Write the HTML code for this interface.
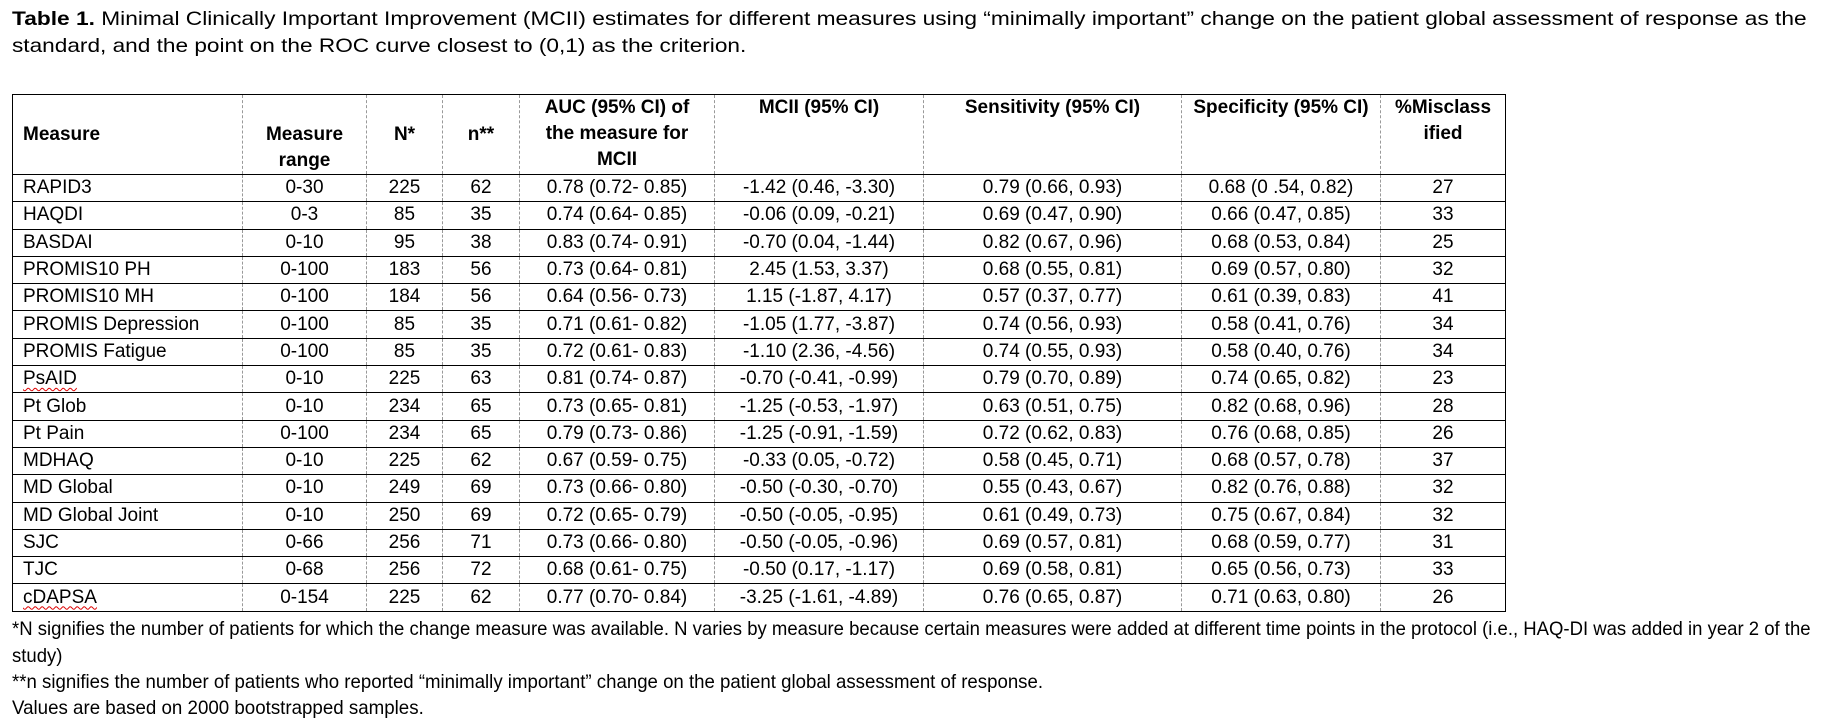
<!DOCTYPE html>
<html><head><meta charset="utf-8">
<style>
html,body{margin:0;padding:0;background:#fff;}
body{width:1842px;height:726px;position:relative;overflow:hidden;font-family:"Liberation Sans Narrow","Liberation Sans",sans-serif;color:#000;}
.t{position:absolute;left:12px;font-size:19.5px;white-space:nowrap;line-height:27px;transform-origin:0 50%;}
table{position:absolute;left:12px;top:94px;border-collapse:collapse;table-layout:fixed;font-size:19px;}
td,th{padding:0;height:26.3px;line-height:26px;text-align:center;border-left:1px dashed #999;border-right:1px dashed #999;border-top:1.5px solid #000;border-bottom:1.5px solid #000;white-space:nowrap;}
th{font-weight:bold;height:79px;vertical-align:top;line-height:26px;}
td:first-child,th:first-child{text-align:left;padding-left:10px;border-left:1.5px solid #000;}
td:last-child,th:last-child{border-right:1.5px solid #000;}
.sq{text-decoration:underline wavy #d00;text-decoration-thickness:1px;text-underline-offset:3px;}
</style></head><body>
<div class="t" style="top:6px;transform:scaleX(1.165)"><b>Table 1.</b> Minimal Clinically Important Improvement (MCII) estimates for different measures using “minimally important” change on the patient global assessment of response as the</div>
<div class="t" style="top:33px;transform:scaleX(1.16)">standard, and the point on the ROC curve closest to (0,1) as the criterion.</div>
<table>
<colgroup><col style="width:230px"><col style="width:124px"><col style="width:76px"><col style="width:77px"><col style="width:195px"><col style="width:209px"><col style="width:258px"><col style="width:199px"><col style="width:125px"></colgroup>
<tr><th style="vertical-align:middle">Measure</th><th style="vertical-align:bottom">Measure<br>range</th><th style="vertical-align:middle">N*</th><th style="vertical-align:middle">n**</th><th>AUC (95% CI) of<br>the measure for<br>MCII</th><th>MCII (95% CI)</th><th>Sensitivity (95% CI)</th><th>Specificity (95% CI)</th><th>%Misclass<br>ified</th></tr>
<tr><td>RAPID3</td><td>0-30</td><td>225</td><td>62</td><td>0.78 (0.72- 0.85)</td><td>-1.42 (0.46, -3.30)</td><td>0.79 (0.66, 0.93)</td><td>0.68 (0 .54, 0.82)</td><td>27</td></tr>
<tr><td>HAQDI</td><td>0-3</td><td>85</td><td>35</td><td>0.74 (0.64- 0.85)</td><td>-0.06 (0.09, -0.21)</td><td>0.69 (0.47, 0.90)</td><td>0.66 (0.47, 0.85)</td><td>33</td></tr>
<tr><td>BASDAI</td><td>0-10</td><td>95</td><td>38</td><td>0.83 (0.74- 0.91)</td><td>-0.70 (0.04, -1.44)</td><td>0.82 (0.67, 0.96)</td><td>0.68 (0.53, 0.84)</td><td>25</td></tr>
<tr><td>PROMIS10 PH</td><td>0-100</td><td>183</td><td>56</td><td>0.73 (0.64- 0.81)</td><td>2.45 (1.53, 3.37)</td><td>0.68 (0.55, 0.81)</td><td>0.69 (0.57, 0.80)</td><td>32</td></tr>
<tr><td>PROMIS10 MH</td><td>0-100</td><td>184</td><td>56</td><td>0.64 (0.56- 0.73)</td><td>1.15 (-1.87, 4.17)</td><td>0.57 (0.37, 0.77)</td><td>0.61 (0.39, 0.83)</td><td>41</td></tr>
<tr><td>PROMIS Depression</td><td>0-100</td><td>85</td><td>35</td><td>0.71 (0.61- 0.82)</td><td>-1.05 (1.77, -3.87)</td><td>0.74 (0.56, 0.93)</td><td>0.58 (0.41, 0.76)</td><td>34</td></tr>
<tr><td>PROMIS Fatigue</td><td>0-100</td><td>85</td><td>35</td><td>0.72 (0.61- 0.83)</td><td>-1.10 (2.36, -4.56)</td><td>0.74 (0.55, 0.93)</td><td>0.58 (0.40, 0.76)</td><td>34</td></tr>
<tr><td><span class="sq">PsAID</span></td><td>0-10</td><td>225</td><td>63</td><td>0.81 (0.74- 0.87)</td><td>-0.70 (-0.41, -0.99)</td><td>0.79 (0.70, 0.89)</td><td>0.74 (0.65, 0.82)</td><td>23</td></tr>
<tr><td>Pt Glob</td><td>0-10</td><td>234</td><td>65</td><td>0.73 (0.65- 0.81)</td><td>-1.25 (-0.53, -1.97)</td><td>0.63 (0.51, 0.75)</td><td>0.82 (0.68, 0.96)</td><td>28</td></tr>
<tr><td>Pt Pain</td><td>0-100</td><td>234</td><td>65</td><td>0.79 (0.73- 0.86)</td><td>-1.25 (-0.91, -1.59)</td><td>0.72 (0.62, 0.83)</td><td>0.76 (0.68, 0.85)</td><td>26</td></tr>
<tr><td>MDHAQ</td><td>0-10</td><td>225</td><td>62</td><td>0.67 (0.59- 0.75)</td><td>-0.33 (0.05, -0.72)</td><td>0.58 (0.45, 0.71)</td><td>0.68 (0.57, 0.78)</td><td>37</td></tr>
<tr><td>MD Global</td><td>0-10</td><td>249</td><td>69</td><td>0.73 (0.66- 0.80)</td><td>-0.50 (-0.30, -0.70)</td><td>0.55 (0.43, 0.67)</td><td>0.82 (0.76, 0.88)</td><td>32</td></tr>
<tr><td>MD Global Joint</td><td>0-10</td><td>250</td><td>69</td><td>0.72 (0.65- 0.79)</td><td>-0.50 (-0.05, -0.95)</td><td>0.61 (0.49, 0.73)</td><td>0.75 (0.67, 0.84)</td><td>32</td></tr>
<tr><td>SJC</td><td>0-66</td><td>256</td><td>71</td><td>0.73 (0.66- 0.80)</td><td>-0.50 (-0.05, -0.96)</td><td>0.69 (0.57, 0.81)</td><td>0.68 (0.59, 0.77)</td><td>31</td></tr>
<tr><td>TJC</td><td>0-68</td><td>256</td><td>72</td><td>0.68 (0.61- 0.75)</td><td>-0.50 (0.17, -1.17)</td><td>0.69 (0.58, 0.81)</td><td>0.65 (0.56, 0.73)</td><td>33</td></tr>
<tr><td><span class="sq">cDAPSA</span></td><td>0-154</td><td>225</td><td>62</td><td>0.77 (0.70- 0.84)</td><td>-3.25 (-1.61, -4.89)</td><td>0.76 (0.65, 0.87)</td><td>0.71 (0.63, 0.80)</td><td>26</td></tr>
</table>
<div class="t" style="top:616px;transform:scaleX(0.95)">*N signifies the number of patients for which the change measure was available. N varies by measure because certain measures were added at different time points in the protocol (i.e., HAQ-DI was added in year 2 of the</div>
<div class="t" style="top:643px;transform:scaleX(0.95)">study)</div>
<div class="t" style="top:669px;transform:scaleX(0.955)">**n signifies the number of patients who reported “minimally important” change on the patient global assessment of response.</div>
<div class="t" style="top:695px;transform:scaleX(0.96)">Values are based on 2000 bootstrapped samples.</div>
</body></html>
